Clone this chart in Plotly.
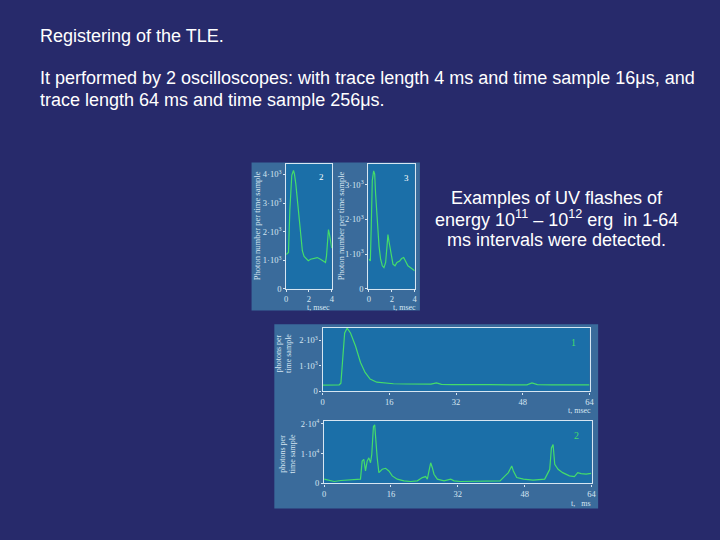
import plotly.graph_objects as go

W, H = 720, 540

# ---- data ----
# Panel "2" (4 ms trace, 16 us sample)
t2 = [0.0, 0.2, 0.32, 0.41, 0.49, 0.64, 0.72, 0.84, 0.98, 1.13, 1.28, 1.42, 1.57, 1.77, 1.94,
      2.14, 2.43, 2.72, 3.01, 3.30, 3.45, 3.54, 3.62, 3.71, 3.80, 3.88, 3.97, 4.0]
v2 = [1200, 1265, 2760, 3790, 3970, 4140, 4020, 3680, 3100, 2300, 1720, 1320, 1130, 1030, 980,
      1030, 1060, 1090, 1030, 950, 920, 1150, 1840, 2070, 1900, 1720, 1490, 1420]

# Panel "3" (4 ms trace)
t3 = [0.0, 0.12, 0.2, 0.29, 0.41, 0.50, 0.58, 0.70, 0.79, 0.88, 1.02, 1.17, 1.31, 1.46, 1.58,
      1.66, 1.75, 1.87, 1.99, 2.10, 2.28, 2.45, 2.69, 2.86, 3.04, 3.21, 3.41, 3.62, 3.79, 4.0]
v3 = [850, 800, 1790, 3120, 3400, 3310, 2740, 1980, 1420, 1230, 850, 660, 610, 760, 1230,
      1560, 1370, 1130, 850, 710, 660, 760, 800, 870, 900, 800, 660, 610, 570, 520]

# Panel "1" (64 ms trace, 256 us sample)
t1 = [0, 2, 4.0, 4.4, 4.75, 5.3, 5.9, 6.7, 7.9, 9.1, 10.2, 11.4, 13.0, 14.9, 17,
      20, 23, 26, 27.3, 28.5, 31, 35, 40, 45, 49, 50.2, 51.5, 55, 60, 64]
v1 = [250, 255, 260, 320, 1130, 2280, 2470, 2280, 1770, 1130, 740, 485, 360, 320, 300,
      290, 295, 285, 330, 280, 270, 255, 265, 255, 255, 330, 265, 255, 255, 255]

# Panel "2" bottom (64 ms trace)
t4 = [0, 1.2, 2.4, 4.0, 6.3, 8.3, 8.7, 9.1, 9.5, 9.9, 10.3, 10.7, 11.1, 11.4, 11.8,
      12.1, 12.4, 12.7, 13.1, 13.9, 14.7, 15.5, 16.3, 17.5, 19.1, 20.7, 22.3, 23.5, 24.3, 24.7,
      25.1, 25.5, 25.9, 26.3, 27.1, 28.7, 30.3, 31.1, 32.6, 35.0, 39.0, 42.1, 43.3, 44.1, 44.9,
      45.3, 46.1, 47.7, 50.0, 52.8, 53.6, 54.0, 54.4, 54.8, 55.2, 56.0, 57.1, 58.7, 59.9, 60.7,
      61.5, 62.7, 63.9]
v4 = [1450, 1120, 660, 1000, 1120, 1320, 1450, 7490, 8050, 4190, 7490, 8580, 6930, 9700, 19040,
      19600, 13000, 8580, 3630, 4750, 5080, 4190, 2540, 1450, 890, 660, 890, 1980, 2310, 1450,
      4190, 6930, 5280, 3100, 1450, 890, 1450, 890, 660, 660, 660, 890, 2540, 3630, 5840,
      4190, 1980, 1450, 1120, 1450, 3630, 4750, 11880, 13000, 6400, 4750, 3630, 2540, 2310, 3630,
      3300, 3100, 3400]

ytick_vals_small = [0, 1000, 2000, 3000, 4000]
ytick_text_small = ["0", "1·10<sup>3</sup>", "2·10<sup>3</sup>", "3·10<sup>3</sup>", "4·10<sup>3</sup>"]
xtick_small = [0, 2, 4]
xtick_long = [0, 16, 32, 48, 64]
ytick_vals_p1 = [0, 1000, 2000]
ytick_text_p1 = ["0", "1·10<sup>3</sup>", "2·10<sup>3</sup>"]
ytick_vals_p4 = [0, 10000, 20000]
ytick_text_p4 = ["0", "1·10<sup>4</sup>", "2·10<sup>4</sup>"]

# ---- styling ----
BG = "#272a6b"
BLOCK = "#3a6b9b"
PLOTBG = "#1b6fa8"
GREEN = "#45dc6a"
AXC = "#d6e6f2"
SERIF = "Liberation Serif, DejaVu Serif, serif"
SANS = "Liberation Sans, Arial, sans-serif"


def px(x):
    return x / W


def py(y):
    return 1 - y / H


# plot area boxes in pixels: left, top, right, bottom
boxes = {
    "p2": (287, 163, 333, 290),
    "p3": (370, 163, 416.7, 290),
    "p1": (323.7, 330, 593.3, 394.3),
    "p4": (325.3, 424.3, 595.3, 487.7),
}

fig = go.Figure()
fig.add_trace(go.Scatter(x=t2, y=v2, xaxis="x", yaxis="y", mode="lines",
                         line=dict(color=GREEN, width=1.2)))
fig.add_trace(go.Scatter(x=t3, y=v3, xaxis="x2", yaxis="y2", mode="lines",
                         line=dict(color=GREEN, width=1.2)))
fig.add_trace(go.Scatter(x=t1, y=v1, xaxis="x3", yaxis="y3", mode="lines",
                         line=dict(color=GREEN, width=1.2)))
fig.add_trace(go.Scatter(x=t4, y=v4, xaxis="x4", yaxis="y4", mode="lines",
                         line=dict(color=GREEN, width=1.2)))

tickfont = dict(family=SERIF, size=8.5, color=AXC)


def xax(key, anchor, rng, tv):
    l, t, r, b = boxes[key]
    return dict(domain=[px(l), px(r)], anchor=anchor, range=rng, tickvals=tv,
                showline=True, mirror=True, linecolor=AXC, linewidth=1.2,
                showgrid=False, zeroline=False, ticks="outside", ticklen=2,
                tickcolor=AXC, tickfont=tickfont, fixedrange=True)


def yax(key, anchor, rng, tv, tt):
    l, t, r, b = boxes[key]
    return dict(domain=[py(b), py(t)], anchor=anchor, range=rng, tickvals=tv, ticktext=tt,
                showline=True, mirror=True, linecolor=AXC, linewidth=1.2,
                showgrid=False, zeroline=False, ticks="outside", ticklen=2,
                tickcolor=AXC, tickfont=tickfont, fixedrange=True)


shapes = [
    dict(type="rect", xref="paper", yref="paper", x0=px(252), x1=px(422), y0=py(312), y1=py(162),
         fillcolor=BLOCK, line=dict(width=0), layer="below"),
    dict(type="rect", xref="paper", yref="paper", x0=px(275), x1=px(602), y0=py(513), y1=py(326),
         fillcolor=BLOCK, line=dict(width=0), layer="below"),
]
for key, (l, t, r, b) in boxes.items():
    shapes.append(dict(type="rect", xref="paper", yref="paper", x0=px(l), x1=px(r),
                       y0=py(b), y1=py(t), fillcolor=PLOTBG, line=dict(width=0), layer="below"))

ann = []


def text(x, y, s, size=16, color="white", family=SANS, xanchor="left", angle=0, align="left"):
    ann.append(dict(x=px(x), y=py(y), xref="paper", yref="paper", text=s, showarrow=False,
                    font=dict(family=family, size=size, color=color), xanchor=xanchor,
                    yanchor="middle", textangle=angle, align=align))


text(36, 34, "Registering of the TLE.", size=18)
text(36, 76, "It performed by 2 oscilloscopes: with trace length 4 ms and time sample 16μs, and",
     size=18)
text(36, 98, "trace length 64 ms and time sample 256μs.", size=18)
text(560, 198, "Examples of UV flashes of", size=18, xanchor="center")
text(560, 219, "energy 10<sup>11</sup> – 10<sup>12</sup> erg  in 1-64", size=18, xanchor="center")
text(560, 241, "ms intervals were detected.", size=18, xanchor="center")

# panel labels
text(323, 177, "2", size=9, family=SERIF, xanchor="center")
text(408, 178, "3", size=9, family=SERIF, xanchor="center")
text(577, 345, "1", size=10, color=GREEN, family=SERIF, xanchor="center")
text(580, 439, "2", size=10, color=GREEN, family=SERIF, xanchor="center")

# axis titles
text(257, 226, "Photon number per time sample", size=8.5, color=AXC, family=SERIF,
     xanchor="center", angle=-90)
text(342, 226, "Photon number per time sample", size=8.5, color=AXC, family=SERIF,
     xanchor="center", angle=-90)
text(284, 356, "photons per<br>time sample", size=8, color=AXC, family=SERIF,
     xanchor="center", angle=-90, align="center")
text(288, 458, "photons per<br>time sample", size=8, color=AXC, family=SERIF,
     xanchor="center", angle=-90, align="center")
text(320, 309, "t, msec", size=8, color=AXC, family=SERIF, xanchor="center")
text(406, 309, "t, msec", size=8, color=AXC, family=SERIF, xanchor="center")
text(583, 414, "t, msec", size=8, color=AXC, family=SERIF, xanchor="center")
text(585, 508, "t,   ms", size=8, color=AXC, family=SERIF, xanchor="center")

fig.update_layout(
    width=W, height=H, margin=dict(l=0, r=0, t=0, b=0),
    paper_bgcolor=BG, plot_bgcolor="rgba(0,0,0,0)", showlegend=False,
    xaxis=xax("p2", "y", [0, 4], xtick_small),
    yaxis=yax("p2", "x", [0, 4380], ytick_vals_small, ytick_text_small),
    xaxis2=xax("p3", "y2", [-0.05, 4], xtick_small),
    yaxis2=yax("p3", "x2", [0, 3610], ytick_vals_small[:4], ytick_text_small[:4]),
    xaxis3=xax("p1", "y3", [0, 64], xtick_long),
    yaxis3=yax("p1", "x3", [0, 2470], ytick_vals_p1, ytick_text_p1),
    xaxis4=xax("p4", "y4", [0, 64], xtick_long),
    yaxis4=yax("p4", "x4", [0, 20900], ytick_vals_p4, ytick_text_p4),
    shapes=shapes, annotations=ann,
)

fig.write_html("out.html", config={"displayModeBar": False},
               post_script="document.body.style.margin='0';document.body.style.background='#272a6b';")
